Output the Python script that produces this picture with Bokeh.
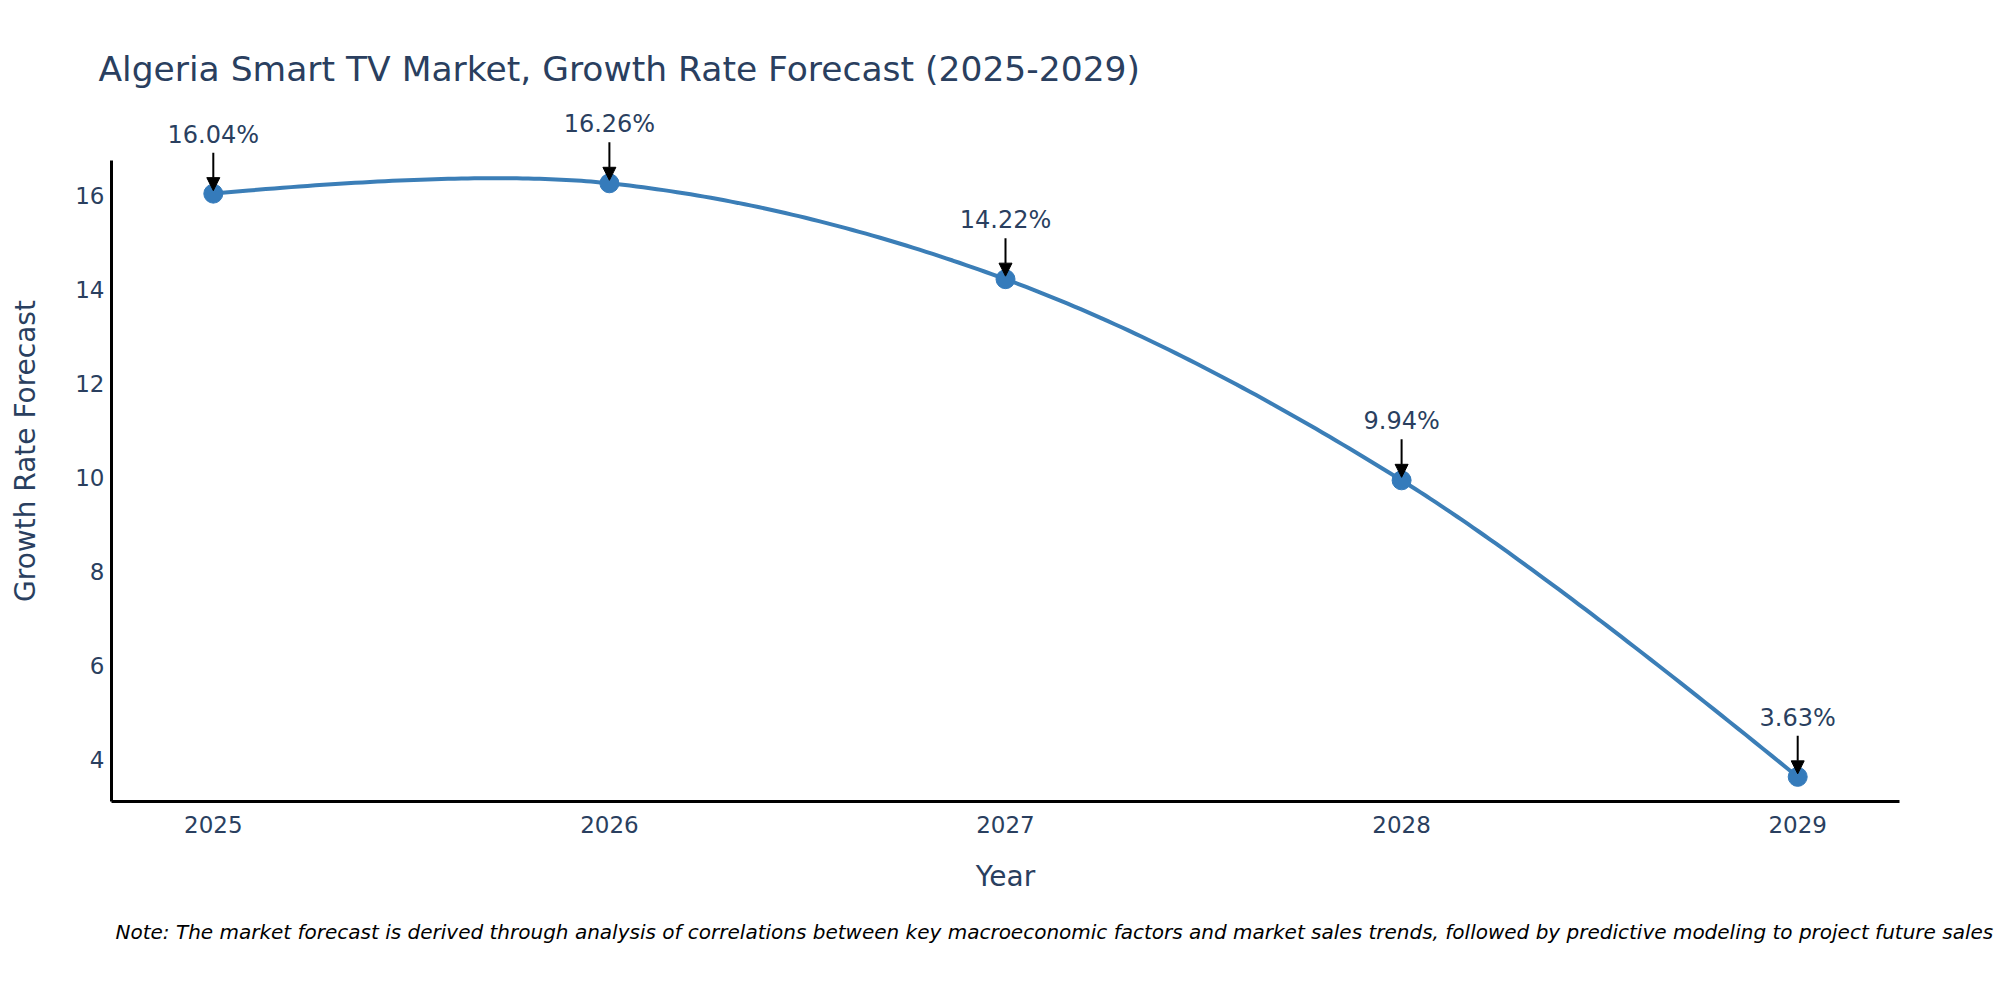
import numpy as np
from bokeh.plotting import figure
from bokeh.models import FixedTicker, Arrow, NormalHead, Title, Range1d
from bokeh.embed import file_html
from bokeh.resources import INLINE
from bokeh.core.properties import value

# ---- data ----
years = [2025, 2026, 2027, 2028, 2029]
growth = [16.04, 16.26, 14.22, 9.94, 3.63]
point_labels = ["16.04%", "16.26%", "14.22%", "9.94%", "3.63%"]
x_ticks = [2025, 2026, 2027, 2028, 2029]
y_ticks = [4, 6, 8, 10, 12, 14, 16]

title_text = "Algeria Smart TV Market, Growth Rate Forecast (2025-2029)"
x_title = "Year"
y_title = "Growth Rate Forecast"
note_text = ("Note: The market forecast is derived through analysis of correlations between key "
             "macroeconomic factors and market sales trends, followed by predictive modeling to "
             "project future sales")

# ---- style / layout ----
FONT = "DejaVu Sans"
TXT = "#2a3f5f"
LINE_COLOR = "#3b7eb7"
MARK_COLOR = "#357bbb"
X0, X1 = 2024.743, 2029.257
Y0, Y1 = 3.106, 16.745          # visible axis extent
FW, FH_AXIS = 1788, 641
EXTRA_TOP = 60                  # room above the axis for the labels
FH = FH_AXIS + EXTRA_TOP
Y1E = Y1 + EXTRA_TOP * (Y1 - Y0) / FH_AXIS

p = figure(frame_width=FW, frame_height=FH,
           x_range=Range1d(X0, X1), y_range=Range1d(Y0, Y1E),
           output_backend="svg", toolbar_location=None,
           min_border_left=111, min_border_right=101,
           min_border_top=100, min_border_bottom=199)
p.background_fill_color = "white"
p.border_fill_color = "white"
p.outline_line_color = None
p.grid.visible = False

p.title.text = title_text
p.title.text_font = FONT
p.title.text_font_size = "34.5px"
p.title.text_font_style = "normal"
p.title.text_color = TXT
p.title.align = "left"
p.title.offset = -13
p.title.standoff = 24

for ax in (p.xaxis[0], p.yaxis[0]):
    ax.axis_line_color = "black"
    ax.axis_line_width = 3
    ax.major_tick_line_color = None
    ax.minor_tick_line_color = None
    ax.major_tick_out = 0
    ax.major_tick_in = 0
    ax.minor_tick_out = 0
    ax.minor_tick_in = 0
    ax.major_label_text_font = FONT
    ax.major_label_text_font_size = "23px"
    ax.major_label_text_color = TXT
    ax.axis_label_text_font = FONT
    ax.axis_label_text_font_size = "28px"
    ax.axis_label_text_font_style = "normal"
    ax.axis_label_text_color = TXT

p.xaxis.ticker = FixedTicker(ticks=x_ticks)
p.yaxis.ticker = FixedTicker(ticks=y_ticks)
p.yaxis.bounds = (Y0, Y1)
p.xaxis.axis_label = x_title
p.yaxis.axis_label = y_title
p.xaxis.major_label_standoff = 14
p.yaxis.major_label_standoff = 7
p.xaxis.axis_label_standoff = 24
p.yaxis.axis_label_standoff = 30

# ---- smooth spline (plotly-like Catmull-Rom in pixel space) ----
def to_px(x, y):
    return ((x - X0) / (X1 - X0) * FW, (Y1E - y) / (Y1E - Y0) * FH)

def to_data(px, py):
    return (X0 + px / FW * (X1 - X0), Y1E - py / FH * (Y1E - Y0))

pts = [np.array(to_px(x, y)) for x, y in zip(years, growth)]

def tangent(prev, this, nxt, s=1.0):
    d1 = prev - this
    d2 = nxt - this
    d1a = (d1 @ d1) ** 0.25
    d2a = (d2 @ d2) ** 0.25
    num = (d2a * d2a * d1 - d1a * d1a * d2) * s
    den1 = 3 * d2a * (d1a + d2a)
    den2 = 3 * d1a * (d1a + d2a)
    return this + num / den1, this - num / den2

tans = [tangent(pts[i - 1], pts[i], pts[i + 1]) for i in range(1, len(pts) - 1)]
t = np.linspace(0, 1, 60)[:, None]
curve = []
a, c, b = pts[0], tans[0][0], pts[1]
curve.append((1 - t) ** 2 * a + 2 * (1 - t) * t * c + t ** 2 * b)
for i in range(2, len(pts) - 1):
    a, c1, c2, b = pts[i - 1], tans[i - 2][1], tans[i - 1][0], pts[i]
    curve.append((1 - t) ** 3 * a + 3 * (1 - t) ** 2 * t * c1 + 3 * (1 - t) * t ** 2 * c2 + t ** 3 * b)
a, c, b = pts[-2], tans[-1][1], pts[-1]
curve.append((1 - t) ** 2 * a + 2 * (1 - t) * t * c + t ** 2 * b)
curve = np.vstack(curve)
cx, cy = to_data(curve[:, 0], curve[:, 1])

p.line(cx, cy, line_width=4, line_color=LINE_COLOR)
p.scatter(years, growth, size=19, fill_color=MARK_COLOR, line_color=MARK_COLOR)

# ---- annotations ----
py = (Y1E - Y0) / FH
for x, y in zip(years, growth):
    p.add_layout(Arrow(x_start=x, y_start=y + 41 * py, x_end=x, y_end=y + 3 * py,
                       line_width=2, line_color="black",
                       end=NormalHead(size=13, fill_color="black", line_color="black")))
p.text(years, growth, text=point_labels, y_offset=-59, text_align="center",
       text_baseline="alphabetic", text_font=value(FONT), text_font_size="24px",
       text_color=TXT)

note = Title(text=note_text, align="left", text_font=FONT, text_font_size="20px",
             text_font_style="italic", text_color="black", offset=4, standoff=44)
p.add_layout(note, "below")

open("out.html", "w").write(file_html(p, INLINE))
